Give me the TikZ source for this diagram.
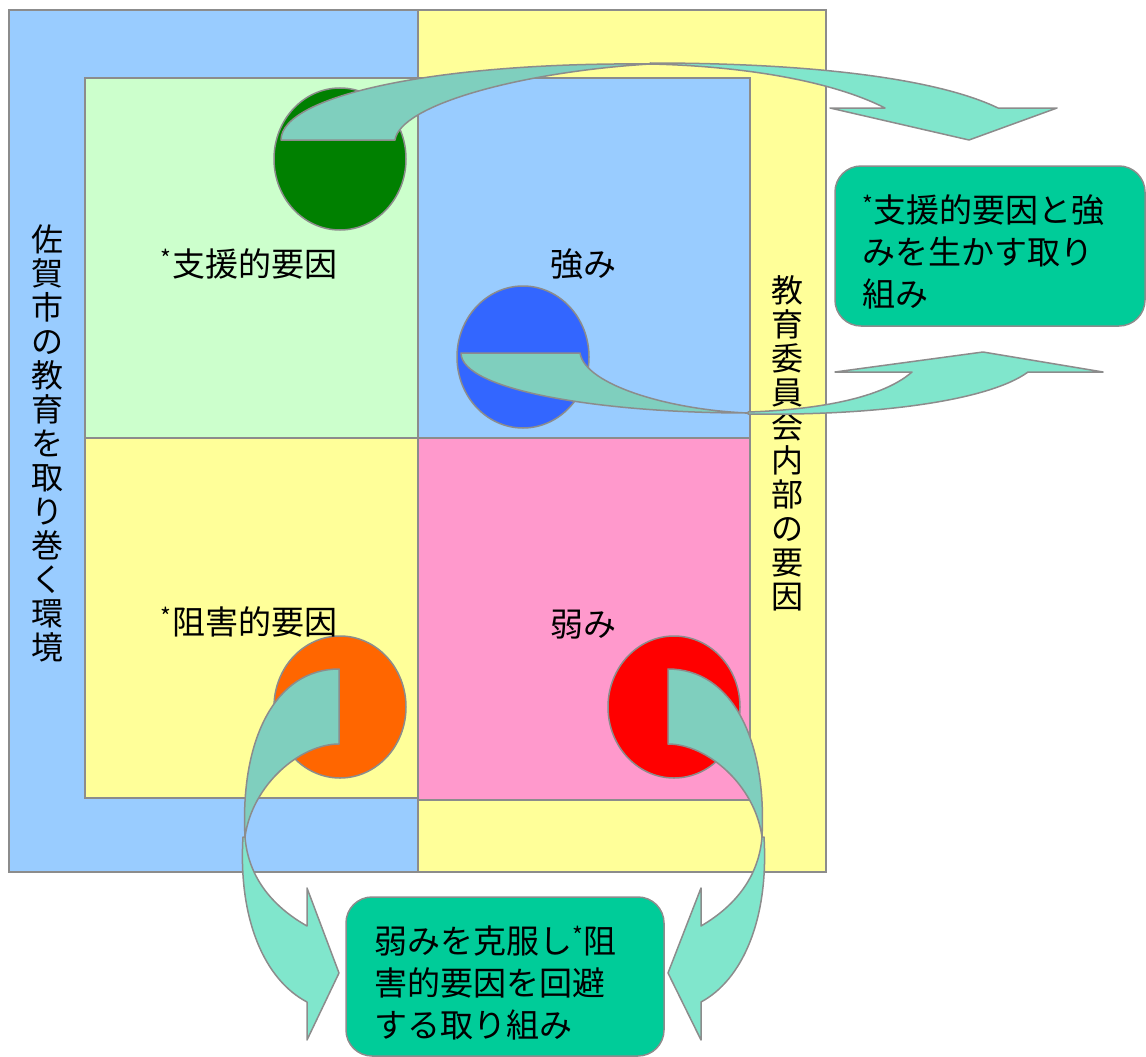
\documentclass[tikz,border=0pt]{standalone}
\usepackage{fontspec}
\setmainfont{Noto Sans CJK JP}
\definecolor{randgrau}{HTML}{8C8C8C}
\definecolor{umfeldblau}{HTML}{99CCFF}
\definecolor{innengelb}{HTML}{FFFF99}
\definecolor{hellgruen}{HTML}{CCFFCC}
\definecolor{rosa}{HTML}{FF99CC}
\definecolor{kreisgruen}{HTML}{008000}
\definecolor{kreisblau}{HTML}{3366FF}
\definecolor{kreisorange}{HTML}{FF6600}
\definecolor{kreisrot}{HTML}{FF0000}
\definecolor{pfeildunkel}{HTML}{7FCFBE}
\definecolor{pfeilhell}{HTML}{80E6CC}
\definecolor{boxgruen}{HTML}{00CC99}
\tikzset{
  flaeche/.style={draw=randgrau, line width=1.5pt},
  kreis/.style={draw=randgrau, line width=1.5pt},
  pfeil/.style={draw=randgrau, line width=1.5pt, line join=round},
  zielbox/.style={draw=randgrau, line width=1.5pt, fill=boxgruen, rounded corners=26pt},
  schrift/.style={font=\fontsize{33}{42}\selectfont, inner sep=0pt},
  senkrecht/.style={font=\fontsize{32}{34}\selectfont, align=center, inner sep=0pt}
}
\begin{document}
\begin{tikzpicture}[x=1pt,y=-1pt]
  \useasboundingbox (0,0) rectangle (1146,1057);
  % Hintergrund
  \draw[flaeche, fill=umfeldblau] (9,10) rectangle (418,872);
  \draw[flaeche, fill=innengelb] (418,10) rectangle (826,872);
  % Quadranten
  \draw[flaeche, fill=hellgruen] (85,78) rectangle (418,438);
  \draw[flaeche, fill=umfeldblau] (418,78) rectangle (750,438);
  \draw[flaeche, fill=innengelb] (85,438) rectangle (418,798);
  \draw[flaeche, fill=rosa] (418,438) rectangle (750,800);
  % Kreise
  \draw[kreis, fill=kreisgruen] (340,159) ellipse [x radius=66, y radius=71];
  \draw[kreis, fill=kreisblau] (523,357) ellipse [x radius=66, y radius=71];
  \draw[kreis, fill=kreisorange] (340,707) ellipse [x radius=66, y radius=71];
  \draw[kreis, fill=kreisrot] (674,707) ellipse [x radius=66, y radius=71];
  % Beschriftungen
  \node[schrift] (support) at (249,264) {\textsuperscript{*}支援的要因};
  \node[schrift] (staerke) at (583,264) {強み};
  \node[schrift] (hemmnis) at (249,622) {\textsuperscript{*}阻害的要因};
  \node[schrift] (schwaeche) at (583,625) {弱み};
  \node[senkrecht] (umfeld) at (47,443)
    {佐\\賀\\市\\の\\教\\育\\を\\取\\り\\巻\\く\\環\\境};
  \node[senkrecht] (intern) at (787,443)
    {教\\育\\委\\員\\会\\内\\部\\の\\要\\因};
  % Pfeil oben
  \draw[pfeil, fill=pfeilhell] (650,64) .. controls (740,66) and (830,80) .. (885,108)
    -- (830,108) -- (969,140) -- (1057,108) -- (998,108)
    .. controls (940,80) and (820,63) .. (650,63) -- cycle;
  \draw[pfeil, fill=pfeildunkel] (281,140) -- (395,140)
    .. controls (400,105) and (520,72) .. (650,64)
    .. controls (440,62) and (281,95) .. (281,140) -- cycle;
  % Pfeil Mitte
  \draw[pfeil, fill=pfeilhell] (748,414) .. controls (880,416) and (990,400) .. (1028,372)
    -- (1103,372) -- (983,352) -- (835,372) -- (912,372)
    .. controls (880,400) and (810,410) .. (748,412) -- cycle;
  \draw[pfeil, fill=pfeildunkel] (461,353) -- (580,353)
    .. controls (585,385) and (670,410) .. (748,413)
    .. controls (600,413) and (461,390) .. (461,353) -- cycle;
  % Pfeil unten links
  \draw[pfeil, fill=pfeilhell] (243,837) .. controls (238,920) and (265,980) .. (307,1002)
    -- (307,1040) -- (339,973) -- (307,888) -- (307,926)
    .. controls (270,905) and (248,875) .. (245,837) -- cycle;
  \draw[pfeil, fill=pfeildunkel] (339,669) -- (339,744)
    .. controls (300,744) and (252,785) .. (245,837)
    .. controls (240,740) and (275,669) .. (339,669) -- cycle;
  % Pfeil unten rechts
  \draw[pfeil, fill=pfeilhell] (764,837) .. controls (769,920) and (742,980) .. (701,1002)
    -- (701,1040) -- (668,973) -- (701,888) -- (701,926)
    .. controls (737,905) and (759,875) .. (762,837) -- cycle;
  \draw[pfeil, fill=pfeildunkel] (668,669) -- (668,744)
    .. controls (707,744) and (755,785) .. (762,837)
    .. controls (767,740) and (732,669) .. (668,669) -- cycle;
  % Zielkaesten
  \draw[zielbox] (835,166) rectangle (1145,326);
  \node[schrift, align=left, anchor=west] (staerkentext) at (862,252)
    {\textsuperscript{*}支援的要因と強\\みを生かす取り\\組み};
  \draw[zielbox] (346,897) rectangle (664,1056);
  \node[schrift, align=left, anchor=west] (schwaechentext) at (374,983)
    {弱みを克服し\textsuperscript{*}阻\\害的要因を回避\\する取り組み};
\end{tikzpicture}
\end{document}
